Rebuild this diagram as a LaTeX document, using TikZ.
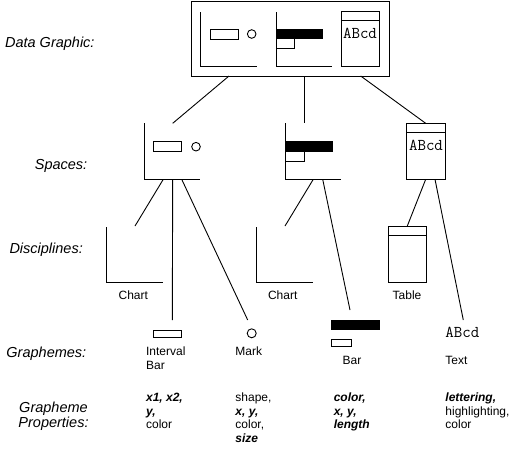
\documentclass[tikz,border=0pt]{standalone}
\usepackage{fontspec}
\setmainfont{Liberation Sans}
\begin{document}
\begin{tikzpicture}[x=1pt,y=-1pt,line width=0.9pt,
  lbl/.style={font=\fontsize{14.5}{17}\selectfont\itshape,inner sep=0},
  txt/.style={font=\fontsize{12}{14}\selectfont,inner sep=0},
  prop/.style={font=\fontsize{12}{14}\selectfont,inner sep=0,anchor=base west},
  bi/.style={font=\fontsize{12}{14}\selectfont\bfseries\itshape,inner sep=0,anchor=base west},
  mono/.style={font=\fontsize{16.5}{18}\selectfont\ttfamily,inner sep=0},
  blk/.style={fill=black,draw=black},
  conn/.style={line width=0.9pt}]
\useasboundingbox (0,0) rectangle (515,451);

% ---------- left labels ----------
\node[lbl,anchor=base east] (l1) at (95,47.5) {Data Graphic:};
\node[lbl,anchor=base east] (l2) at (87.7,169.5) {Spaces:};
\node[lbl,anchor=base east] (l3) at (83.3,253.5) {Disciplines:};
\node[lbl,anchor=base east] (l4) at (86.7,357) {Graphemes:};
\node[lbl,anchor=base] (l5) at (53.5,412) {Grapheme};
\node[lbl,anchor=base] (l6) at (53.5,427) {Properties:};

% ---------- data graphic ----------
\node[draw,inner sep=0,minimum width=198pt,minimum height=75pt] (dg) at (290,38.5) {};
\draw (200.7,12) -- (200.7,66) -- (256.7,66);
\draw (210,29) rectangle (238,39);
\draw (251.7,34) circle (4.3);
\draw (276,12) -- (276,66) -- (331.7,66);
\draw[blk] (276,29.3) rectangle (322.7,38.7);
\draw (276,38.7) rectangle (294.3,48.3);
\draw (341,11) rectangle (379,66.7);
\draw (341,20) -- (379,20);
\node[mono,anchor=base] (t0) at (360,38.5) {ABcd};

\coordinate (dgA) at (229,76);
\coordinate (dgB) at (304.3,76);
\coordinate (dgC) at (360.7,76);

% ---------- spaces ----------
\draw (144.3,123.3) -- (144.3,179.3) -- (200,179.3);
\draw (153.3,141.7) rectangle (181.7,151.7);
\draw (196,146.7) circle (4.3);
\coordinate (sA) at (172.7,123.3);
\coordinate (sA1) at (163.3,179.3);
\coordinate (sA2) at (172.7,179.3);
\coordinate (sA3) at (181.7,179.3);

\draw (285,123.3) -- (285,179.3) -- (340.7,179.3);
\draw[blk] (285,141.7) rectangle (332.3,151.7);
\draw (285,151.7) rectangle (304,161);
\coordinate (sB) at (304.3,123.3);
\coordinate (sB1) at (313.3,179.3);
\coordinate (sB2) at (322.7,179.3);

\draw (406.7,123.3) rectangle (445,179.3);
\draw (406.7,132.3) -- (445,132.3);
\node[mono,anchor=base] (t1) at (426,150.5) {ABcd};
\coordinate (sC) at (425.7,123.3);
\coordinate (sC1) at (425.7,179.3);
\coordinate (sC2) at (435,179.3);

\draw[conn] (dgA) -- (sA);
\draw[conn] (dgB) -- (sB);
\draw[conn] (dgC) -- (sC);

% ---------- disciplines ----------
\draw (106.7,227.3) -- (106.7,282.3) -- (162.7,282.3);
\node[txt,anchor=base] (c1) at (133.3,299.5) {Chart};
\coordinate (dA) at (135,226);

\draw (256.7,227.3) -- (256.7,282.3) -- (312.7,282.3);
\node[txt,anchor=base] (c2) at (282.7,299.5) {Chart};
\coordinate (dB) at (285,226);

\draw (388.3,226) rectangle (426,282.3);
\draw (388.3,235) -- (426,235);
\node[txt,anchor=base] (c3) at (407,299.5) {Table};
\coordinate (dC) at (407.3,226);

\draw[conn] (sA1) -- (dA);
\draw[conn] (sB1) -- (dB);
\draw[conn] (sC1) -- (dC);

% ---------- graphemes ----------
\draw (153.3,330.7) rectangle (181.7,337);
\node[prop] (g1a) at (145.7,355.5) {Interval};
\node[prop] (g1b) at (145.7,369.5) {Bar};
\coordinate (gA) at (172.3,320);

\draw (251.7,333.3) circle (4.5);
\node[prop] (g2) at (235,355.5) {Mark};
\coordinate (gB) at (247.7,320);

\draw[blk] (331.7,320) rectangle (379.3,329.3);
\draw (331.7,339.3) rectangle (351,346.7);
\node[txt,anchor=base] (g3) at (352,364.5) {Bar};
\coordinate (gC) at (350,310);

\node[mono,anchor=base west] (g4a) at (445,337.5) {ABcd};
\node[prop] (g4b) at (445,364.5) {Text};
\coordinate (gD) at (463.3,320);

\draw[conn] (sA2) -- (gA);
\draw[conn] (sA3) -- (gB);
\draw[conn] (sB2) -- (gC);
\draw[conn] (sC2) -- (gD);

% ---------- properties ----------
\node[bi] (p11) at (145.7,401) {x1, x2,};
\node[bi] (p12) at (145.7,415) {y,};
\node[prop] (p13) at (145.7,428.5) {color};

\node[prop] (p21) at (235,401) {shape,};
\node[bi] (p22) at (235,415) {x, y,};
\node[prop] (p23) at (235,428.5) {color,};
\node[bi] (p24) at (235,442) {size};

\node[bi] (p31) at (333.3,401) {color,};
\node[bi] (p32) at (333.3,415) {x, y,};
\node[bi] (p33) at (333.3,428.5) {length};

\node[bi] (p41) at (445,401) {lettering,};
\node[prop] (p42) at (445,415) {highlighting,};
\node[prop] (p43) at (445,428.5) {color};
\end{tikzpicture}
\end{document}
